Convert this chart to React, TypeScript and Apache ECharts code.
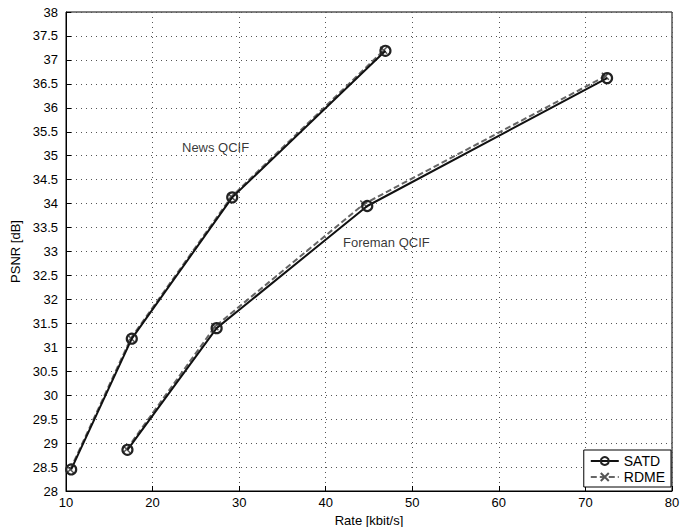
import React, { useEffect, useRef } from "react";
import * as echarts from "echarts";

const newsSatd: [number, number][] = [[10.6, 28.45], [17.6, 31.18], [29.2, 34.13], [46.9, 37.19]];
const newsRdme: [number, number][] = [[10.5, 28.45], [17.5, 31.19], [29.1, 34.14], [46.7, 37.2]];
const foremanSatd: [number, number][] = [[17.1, 28.86], [27.4, 31.4], [44.8, 33.95], [72.5, 36.62]];
const foremanRdme: [number, number][] = [[17.0, 28.87], [27.2, 31.43], [44.4, 33.99], [72.3, 36.66]];
const annotations: { name: string; value: [number, number] }[] = [
  { name: "News QCIF", value: [23.4, 35.18] },
  { name: "Foreman QCIF", value: [42.0, 33.18] },
];
const seriesNames = ["SATD", "RDME"];

const crossPath = "path://M0,0L10,10M10,0L0,10";
const FONT = "Liberation Sans";

export default function App() {
  const ref = useRef<HTMLDivElement>(null);
  useEffect(() => {
    const chart = echarts.init(ref.current!, null, { renderer: "svg" });
    const satdStyle = {
      type: "line" as const,
      name: seriesNames[0],
      symbol: "circle",
      symbolSize: 10,
      showSymbol: true,
      lineStyle: { color: "#111", width: 2 },
      itemStyle: { color: "rgba(0,0,0,0)", borderColor: "#222", borderWidth: 2.2 },
      z: 3,
    };
    const rdmeStyle = {
      type: "line" as const,
      name: seriesNames[1],
      symbol: crossPath,
      symbolSize: 7,
      showSymbol: true,
      lineStyle: { color: "#666", width: 2, type: [6, 3] as any },
      itemStyle: { color: "#555", borderColor: "#555", borderWidth: 1.5 },
      z: 2,
    };
    chart.setOption({
      animation: false,
      textStyle: { fontFamily: FONT },
      grid: {
        left: 66,
        right: 22,
        top: 12,
        bottom: 36,
        containLabel: false,
        outerBoundsMode: "none",
        show: true,
        borderColor: "#000",
        borderWidth: 1,
        backgroundColor: "#fff",
      },
      xAxis: {
        type: "value",
        min: 10,
        max: 80,
        interval: 10,
        name: "Rate [kbit/s]",
        nameLocation: "middle",
        nameGap: 21,
        nameTextStyle: { color: "#000", fontSize: 13, fontFamily: FONT },
        axisLine: { show: true, lineStyle: { color: "#000" } },
        axisTick: { inside: true, length: 5, lineStyle: { color: "#000" } },
        axisLabel: { color: "#000", fontSize: 13, margin: 5, fontFamily: FONT },
        splitLine: { show: true, lineStyle: { color: "#555", type: [1, 4], width: 1 } },
      },
      yAxis: {
        type: "value",
        min: 28,
        max: 38,
        interval: 0.5,
        name: "PSNR [dB]",
        nameLocation: "middle",
        nameGap: 34,
        nameRotate: 90,
        nameTextStyle: { color: "#000", fontSize: 13, fontFamily: FONT },
        axisLine: { show: true, lineStyle: { color: "#000" } },
        axisTick: { inside: true, length: 5, lineStyle: { color: "#000" } },
        axisLabel: { color: "#000", fontSize: 13, margin: 8, fontFamily: FONT },
        splitLine: { show: true, lineStyle: { color: "#555", type: [1, 4], width: 1 } },
      },
      legend: {
        data: seriesNames,
        orient: "vertical",
        right: 23,
        bottom: 40,
        backgroundColor: "#fff",
        borderColor: "#000",
        borderWidth: 1,
        borderRadius: 0,
        padding: [4, 6, 3, 6],
        itemGap: 2,
        itemWidth: 28,
        itemHeight: 10,
        textStyle: { color: "#000", fontSize: 14, fontFamily: FONT },
      },
      series: [
        { ...satdStyle, data: newsSatd },
        { ...rdmeStyle, data: newsRdme },
        { ...satdStyle, data: foremanSatd },
        { ...rdmeStyle, data: foremanRdme },
        {
          type: "scatter",
          name: "labels",
          symbolSize: 0,
          data: annotations,
          label: {
            show: true,
            position: "right",
            distance: 0,
            formatter: (p: any) => p.name,
            color: "#000",
            fontSize: 13,
            fontFamily: FONT,
          },
          silent: true,
        },
      ],
    });
    return () => chart.dispose();
  }, []);
  return (
    <div
      ref={ref}
      style={{ position: "fixed", left: 0, top: 0, width: 694, height: 527, background: "#fff" }}
    />
  );
}
